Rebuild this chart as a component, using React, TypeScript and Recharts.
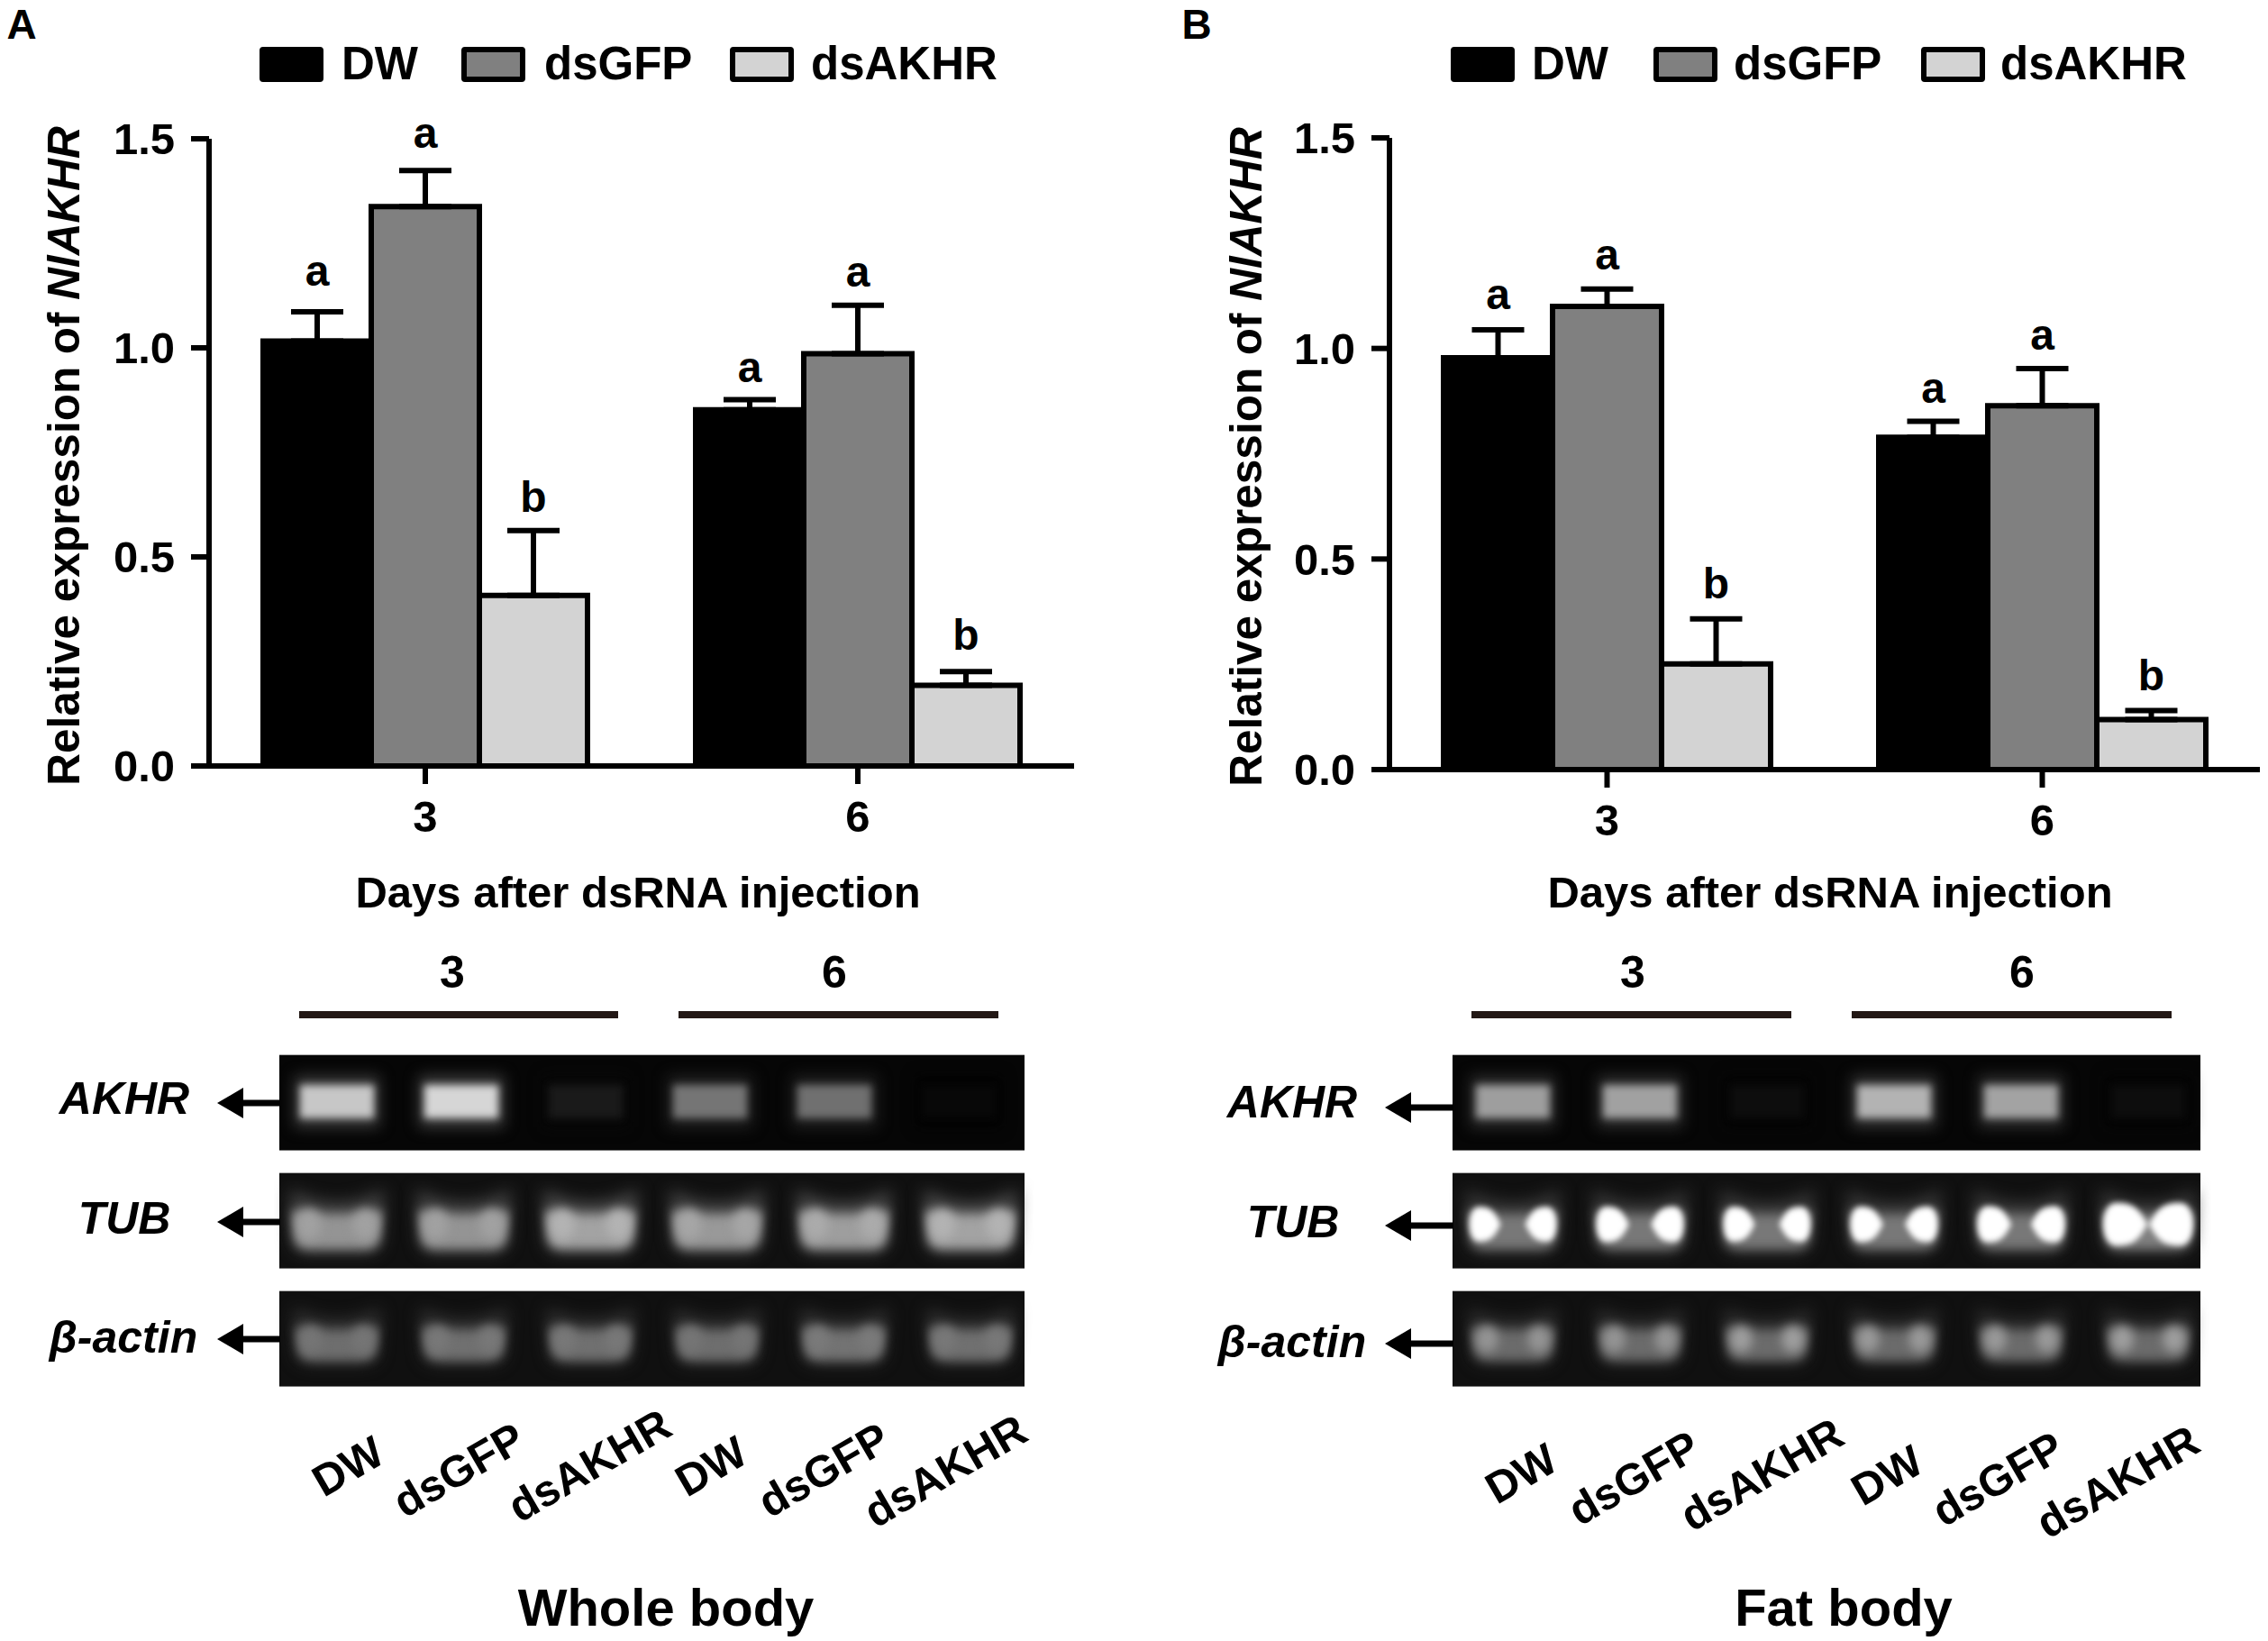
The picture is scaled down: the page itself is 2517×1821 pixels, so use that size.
import { BarChart, Bar, XAxis, YAxis, ErrorBar, LabelList, Label, Legend } from 'recharts';

const FONT = '"Liberation Sans", Arial, sans-serif';

const days = ['3', '6'];
const treatments = ['DW', 'dsGFP', 'dsAKHR'];
const treatmentFills = ['#000000', '#808080', '#d3d3d3'];
const yTicks = [0, 0.5, 1, 1.5];

// Whole body
const wholeDW = [1.016, 0.852];
const wholeGFP = [1.338, 0.986];
const wholeAKHR = [0.408, 0.193];
const wholeDWErr = [0.07, 0.024];
const wholeGFPErr = [0.086, 0.116];
const wholeAKHRErr = [0.155, 0.033];

// Fat body
const fatDW = [0.978, 0.789];
const fatGFP = [1.1, 0.864];
const fatAKHR = [0.251, 0.119];
const fatDWErr = [0.066, 0.038];
const fatGFPErr = [0.041, 0.088];
const fatAKHRErr = [0.107, 0.021];

const lettersDW = ['a', 'a'];
const lettersGFP = ['a', 'a'];
const lettersAKHR = ['b', 'b'];

// Gel lanes: band brightness 0..1 for each lane
const gelLanes = ['DW', 'dsGFP', 'dsAKHR', 'DW', 'dsGFP', 'dsAKHR'];
const wholeAkhrBands = [0.78, 0.84, 0.1, 0.46, 0.44, 0.03];
const wholeTubBands = [0.58, 0.58, 0.64, 0.6, 0.62, 0.64];
const wholeTubHot = [0.05, 0.05, 0.06, 0.05, 0.05, 0.06];
const wholeActinBands = [0.43, 0.44, 0.44, 0.43, 0.45, 0.44];
const wholeActinHot = [0.03, 0.03, 0.03, 0.03, 0.03, 0.03];
const fatAkhrBands = [0.62, 0.63, 0.05, 0.7, 0.64, 0.05];
const fatTubBands = [0.47, 0.47, 0.47, 0.47, 0.47, 0.5];
const fatTubHot = [0.62, 0.66, 0.62, 0.66, 0.7, 1];
const fatActinBands = [0.42, 0.42, 0.42, 0.42, 0.42, 0.42];
const fatActinHot = [0.16, 0.16, 0.2, 0.18, 0.18, 0.2];
const noHot = [0, 0, 0, 0, 0, 0];

const buildRows = (dw: number[], gfp: number[], akhr: number[], dwErr: number[], gfpErr: number[], akhrErr: number[]) =>
  days.map((day, i) => ({
    day,
    DW: dw[i],
    dsGFP: gfp[i],
    dsAKHR: akhr[i],
    DWerr: [0, dwErr[i]],
    dsGFPerr: [0, gfpErr[i]],
    dsAKHRerr: [0, akhrErr[i]],
    DWletter: lettersDW[i],
    dsGFPletter: lettersGFP[i],
    dsAKHRletter: lettersAKHR[i],
  }));

const wholeRows = buildRows(wholeDW, wholeGFP, wholeAKHR, wholeDWErr, wholeGFPErr, wholeAKHRErr);
const fatRows = buildRows(fatDW, fatGFP, fatAKHR, fatDWErr, fatGFPErr, fatAKHRErr);

function LegendRow({ payload, swatchX, textX }: any) {
  return (
    <div style={{ position: 'relative', width: '100%', height: 60 }}>
      {(payload || []).map((item: any, i: number) => (
        <div key={item.value}>
          <div
            style={{
              position: 'absolute',
              left: swatchX[i],
              top: 0,
              width: 71,
              height: 39,
              boxSizing: 'border-box',
              border: '6px solid #000',
              borderRadius: 4,
              background: item.color,
            }}
          />
          <div
            style={{
              position: 'absolute',
              left: textX[i],
              top: -9,
              font: `bold 51px ${FONT}`,
              lineHeight: '56px',
              color: '#000',
              whiteSpace: 'nowrap',
            }}
          >
            {item.value}
          </div>
        </div>
      ))}
    </div>
  );
}

function ExpressionChart({ rows, left, width, plot, barSize, legend, yTitle, xTitle, letterGaps }: any) {
  const pxPerUnit = (plot.bottom - plot.top) / 1.5;
  const errs = treatments.map((t) => rows.map((r: any) => r[`${t}err`][1]));
  return (
    <div style={{ position: 'absolute', left, top: 0 }}>
      <BarChart
        width={width}
        height={1040}
        data={rows}
        barSize={barSize}
        barGap={0}
        margin={{
          top: plot.top,
          right: width - plot.right,
          bottom: 1040 - plot.bottom - 60,
          left: plot.left - 100,
        }}
      >
        <XAxis
          dataKey="day"
          height={60}
          tickSize={20}
          tickMargin={18}
          axisLine={{ stroke: '#000', strokeWidth: 6 }}
          tickLine={{ stroke: '#000', strokeWidth: 6 }}
          tick={{ fill: '#000', fontFamily: FONT, fontWeight: 'bold', fontSize: 49 }}
        >
          <Label
            content={() => (
              <text x={xTitle.x} y={xTitle.y} textAnchor="middle" dominantBaseline="central" fontFamily={FONT} fontWeight="bold" fontSize={49} fill="#000">
                Days after dsRNA injection
              </text>
            )}
          />
        </XAxis>
        <YAxis
          width={100}
          domain={[0, 1.5]}
          ticks={yTicks}
          interval={0}
          tickSize={20}
          tickMargin={18}
          tickFormatter={(v: number) => v.toFixed(1)}
          axisLine={{ stroke: '#000', strokeWidth: 6 }}
          tickLine={{ stroke: '#000', strokeWidth: 6 }}
          tick={{ fill: '#000', fontFamily: FONT, fontWeight: 'bold', fontSize: 49 }}
        >
          <Label
            content={() => (
              <text
                transform={`translate(${yTitle.x} ${yTitle.y}) rotate(-90)`}
                textAnchor="middle"
                dominantBaseline="central"
                fontFamily={FONT}
                fontWeight="bold"
                fontSize={49.5}
                fill="#000"
              >
                Relative expression of <tspan fontStyle="italic">NlAKHR</tspan>
              </text>
            )}
          />
        </YAxis>
        <Legend
          layout="horizontal"
          align="center"
          verticalAlign="middle"
          itemSorter={null}
          wrapperStyle={{ left: 0, top: 52, width, height: 60 }}
          content={(p: any) => <LegendRow payload={p.payload} swatchX={legend.swatchX} textX={legend.textX} />}
        />
        {treatments.map((t, s) => (
          <Bar key={t} dataKey={t} name={t} fill={treatmentFills[s]} stroke="#000" strokeWidth={6} isAnimationActive={false}>
            <ErrorBar dataKey={`${t}err`} direction="y" width={29} stroke="#000" strokeWidth={6} isAnimationActive={false} />
            <LabelList
              dataKey={`${t}letter`}
              content={(l: any) => (
                <text
                  x={l.x + l.width / 2}
                  y={l.y - errs[s][l.index] * pxPerUnit - letterGaps[s][l.index]}
                  textAnchor="middle"
                  fontFamily={FONT}
                  fontWeight="bold"
                  fontSize={48}
                  fill="#000"
                >
                  {l.value}
                </text>
              )}
            />
          </Bar>
        ))}
      </BarChart>
    </div>
  );
}

const gray = (v: number) => {
  const c = Math.round(Math.min(1, v) * 255);
  return `rgb(${c},${c},${c})`;
};

// bright wedge on one side of a saturated band, tip towards the lane centre
const lobePath = (c: number, dir: number, tip: number, len: number, cy: number, ry: number) => {
  const t = c + dir * tip;
  const at = (f: number) => t + dir * f * len;
  return `M${t},${cy} C${at(0.2)},${cy - ry * 0.8} ${at(0.35)},${cy - ry} ${at(0.7)},${cy - ry} C${at(1.1)},${cy - ry} ${at(1.1)},${cy + ry} ${at(0.7)},${cy + ry} C${at(0.35)},${cy + ry} ${at(0.2)},${cy + ry * 0.8} ${t},${cy} Z`;
};

// one lane of the gel: blurred glow shaped from the floating bar's box
function GelBand(props: any) {
  const { x, y, width: w, height: h, payload, shapeKind } = props;
  const level = payload.level;
  const hot = payload.hot;
  if (shapeKind === 'flat') {
    return (
      <g>
        <rect x={x - 4} y={y - 8} width={w + 8} height={h + 16} fill={gray(level * 0.3)} style={{ filter: 'blur(8px)' }} />
        <rect x={x + 2} y={y + 2} width={w - 4} height={h - 4} fill={gray(level)} style={{ filter: 'blur(4px)' }} />
      </g>
    );
  }
  const u = `M${x},${y} Q${x + w / 2},${y + h * 0.42} ${x + w},${y} L${x + w - 3},${y + h * 0.82} Q${x + w - 6},${y + h} ${x + w - 20},${y + h} L${x + 20},${y + h} Q${x + 6},${y + h} ${x + 3},${y + h * 0.82} Z`;
  const uLow = `M${x + 2},${y + h * 0.32} Q${x + w / 2},${y + h * 0.46} ${x + w - 2},${y + h * 0.32} L${x + w - 5},${y + h * 0.8} Q${x + w - 8},${y + h * 0.94} ${x + w - 20},${y + h * 0.94} L${x + 20},${y + h * 0.94} Q${x + 8},${y + h * 0.94} ${x + 5},${y + h * 0.8} Z`;
  const c = x + w / 2;
  const cy = y + h * 0.55;
  let extra = null;
  if (hot > 0.3) {
    const tip = w * (0.33 - 0.32 * hot);
    const len = w * (0.44 + 0.04 * hot) - tip;
    const ry = h * (0.17 + 0.17 * hot);
    extra = (
      <g fill="#fff" style={{ filter: 'blur(3px)' }}>
        <path d={lobePath(c, -1, tip, len, cy, ry)} />
        <path d={lobePath(c, 1, tip, len, cy, ry)} />
      </g>
    );
  } else if (hot > 0) {
    extra = (
      <g fill={gray(level + hot)} style={{ filter: 'blur(6px)' }}>
        <ellipse cx={c - w * 0.3} cy={cy} rx={w * 0.13} ry={h * 0.24} />
        <ellipse cx={c + w * 0.3} cy={cy} rx={w * 0.13} ry={h * 0.24} />
      </g>
    );
  }
  return (
    <g>
      <path d={u} fill={gray(level * 0.48)} style={{ filter: 'blur(9px)' }} />
      <path d={uLow} fill={gray(level)} style={{ filter: 'blur(6px)' }} />
      {extra}
    </g>
  );
}

function GelRow({ bands, hots, low, high, firstCenter, spacing, bandWidth, kind, box, bg }: any) {
  const data = gelLanes.map((lane, i) => ({ lane, band: [low, high], level: bands[i], hot: hots[i] }));
  const chartLeft = firstCenter - spacing / 2;
  return (
    <div>
      <div
        style={{
          position: 'absolute',
          left: box.left,
          top: box.top,
          width: box.width,
          height: box.height,
          background: bg,
          borderTop: '1px solid #aaa',
          borderBottom: '1px solid #777',
          boxSizing: 'border-box',
        }}
      />
      <div style={{ position: 'absolute', left: chartLeft, top: box.top }}>
        <BarChart width={spacing * 6} height={box.height} data={data} barSize={bandWidth} margin={{ top: 0, right: 0, bottom: 0, left: 0 }}>
          <XAxis dataKey="lane" hide />
          <YAxis hide domain={[0, 1]} width={0} />
          <Bar dataKey="band" isAnimationActive={false} shape={(p: any) => <GelBand {...p} shapeKind={kind} />} />
        </BarChart>
      </div>
    </div>
  );
}

function Blots({ left, width, rows, spacing, firstCenter, akhrSpacing }: any) {
  const tops = [1170, 1301, 1432];
  const h = 107;
  const bandGeom = [
    { low: 0.32, high: 0.7, w: 86, kind: 'flat', bg: '#060606', sp: akhrSpacing },
    { low: 0.17, high: 0.82, w: 104, kind: 'u', bg: '#101010', sp: spacing },
    { low: 0.24, high: 0.81, w: 96, kind: 'u', bg: '#101010', sp: spacing },
  ];
  return (
    <>
      {rows.map((r: any, i: number) => (
        <GelRow
          key={i}
          bands={r.bands}
          hots={r.hots}
          low={bandGeom[i].low}
          high={bandGeom[i].high}
          bandWidth={bandGeom[i].w}
          kind={bandGeom[i].kind}
          bg={bandGeom[i].bg}
          firstCenter={firstCenter}
          spacing={bandGeom[i].sp}
          box={{ left, top: tops[i], width, height: h }}
        />
      ))}
    </>
  );
}

const Txt = ({ x, y, size = 50, italic = false, rotate = 0, children }: any) => (
  <text
    transform={`translate(${x} ${y}) rotate(${rotate})`}
    textAnchor="middle"
    dominantBaseline="central"
    fontFamily={FONT}
    fontWeight="bold"
    fontStyle={italic ? 'italic' : 'normal'}
    fontSize={size}
    fill="#000"
  >
    {children}
  </text>
);

const Arrow = ({ tip, end, y }: any) => (
  <g fill="#000">
    <path d={`M${tip},${y} L${tip + 29},${y - 17} L${tip + 29},${y + 17} Z`} />
    <rect x={tip + 28} y={y - 3.5} width={end - tip - 28} height={7} />
  </g>
);

export default function App() {
  return (
    <div style={{ position: 'absolute', left: 0, top: 0, width: 2517, height: 1821, background: '#fff', overflow: 'hidden' }}>
      <ExpressionChart
        rows={wholeRows}
        left={0}
        width={1260}
        plot={{ left: 232, right: 1192, top: 154, bottom: 850 }}
        barSize={120}
        legend={{ swatchX: [288, 512, 810], textX: [379, 604, 900] }}
        yTitle={{ x: 70, y: 506 }}
        xTitle={{ x: 708, y: 990 }}
        letterGaps={[
          [29, 20],
          [25, 21],
          [21, 24],
        ]}
      />
      <ExpressionChart
        rows={fatRows}
        left={1260}
        width={1257}
        plot={{ left: 282, right: 1248, top: 153, bottom: 854 }}
        barSize={121}
        legend={{ swatchX: [350, 575, 872], textX: [440, 664, 960] }}
        yTitle={{ x: 122, y: 507 }}
        xTitle={{ x: 771, y: 990 }}
        letterGaps={[
          [23, 21],
          [22, 21],
          [23, 23],
        ]}
      />
      <Blots
        left={310}
        width={827}
        firstCenter={374}
        spacing={140.6}
        akhrSpacing={138}
        rows={[
          { bands: wholeAkhrBands, hots: noHot },
          { bands: wholeTubBands, hots: wholeTubHot },
          { bands: wholeActinBands, hots: wholeActinHot },
        ]}
      />
      <Blots
        left={1612}
        width={830}
        firstCenter={1678}
        spacing={141}
        akhrSpacing={141}
        rows={[
          { bands: fatAkhrBands, hots: noHot },
          { bands: fatTubBands, hots: fatTubHot },
          { bands: fatActinBands, hots: fatActinHot },
        ]}
      />
      <svg width={2517} height={1821} style={{ position: 'absolute', left: 0, top: 0, pointerEvents: 'none' }}>
        <Txt x={24} y={27} size={46}>A</Txt>
        <Txt x={1328} y={27} size={46}>B</Txt>

        <Txt x={502} y={1079}>3</Txt>
        <Txt x={926} y={1079}>6</Txt>
        <rect x={332} y={1122} width={354} height={8} fill="#231815" />
        <rect x={753} y={1122} width={355} height={8} fill="#231815" />
        <Txt x={1812} y={1079}>3</Txt>
        <Txt x={2244} y={1079}>6</Txt>
        <rect x={1633} y={1122} width={355} height={8} fill="#231815" />
        <rect x={2055} y={1122} width={355} height={8} fill="#231815" />

        <Txt x={138} y={1219} italic>AKHR</Txt>
        <Txt x={138} y={1352} italic>TUB</Txt>
        <Txt x={137} y={1484} italic>β-actin</Txt>
        <Arrow tip={241} end={311} y={1224} />
        <Arrow tip={241} end={311} y={1356} />
        <Arrow tip={241} end={311} y={1486} />
        <Txt x={1434} y={1223} italic>AKHR</Txt>
        <Txt x={1435} y={1356} italic>TUB</Txt>
        <Txt x={1434} y={1489} italic>β-actin</Txt>
        <Arrow tip={1537} end={1613} y={1229} />
        <Arrow tip={1537} end={1613} y={1360} />
        <Arrow tip={1537} end={1613} y={1491} />

        <Txt x={386} y={1627} size={49} rotate={-30}>DW</Txt>
        <Txt x={509} y={1631} size={49} rotate={-30}>dsGFP</Txt>
        <Txt x={654} y={1626} size={49} rotate={-30}>dsAKHR</Txt>
        <Txt x={789} y={1627} size={49} rotate={-30}>DW</Txt>
        <Txt x={914} y={1631} size={49} rotate={-30}>dsGFP</Txt>
        <Txt x={1049} y={1632} size={49} rotate={-30}>dsAKHR</Txt>
        <Txt x={1688} y={1635} size={49} rotate={-30}>DW</Txt>
        <Txt x={1813} y={1640} size={49} rotate={-30}>dsGFP</Txt>
        <Txt x={1955} y={1636} size={49} rotate={-30}>dsAKHR</Txt>
        <Txt x={2094} y={1637} size={49} rotate={-30}>DW</Txt>
        <Txt x={2217} y={1641} size={49} rotate={-30}>dsGFP</Txt>
        <Txt x={2350} y={1644} size={49} rotate={-30}>dsAKHR</Txt>

        <Txt x={739} y={1783} size={58}>Whole body</Txt>
        <Txt x={2046} y={1783} size={58}>Fat body</Txt>
      </svg>
    </div>
  );
}
